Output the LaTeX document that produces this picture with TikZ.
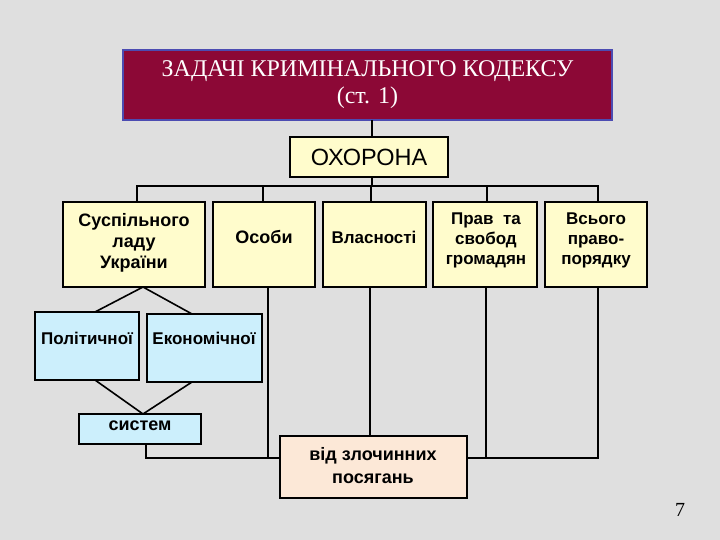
\documentclass[tikz,border=0pt]{standalone}
\usepackage{fontspec}
\setmainfont{Liberation Sans}
\newfontfamily\titlefont{Liberation Serif}
\begin{document}
\begin{tikzpicture}[x=1pt,y=-1pt,
  bx/.style={draw=black,line width=1.6pt,inner sep=0pt},
  tx/.style={align=center,inner sep=0pt,font=\bfseries\fontsize{18}{21}\selectfont},
  yel/.style={fill=yellow!20!white},
  cyn/.style={fill=cyan!20!white},
  ln/.style={line width=1.6pt}]
\fill[gray!25] (0,0) rectangle (720,540);
\useasboundingbox (0,0) rectangle (720,540);
\node[draw=blue!40!gray,line width=1.2pt,fill={rgb,255:red,140;green,8;blue,54},minimum width=489pt,minimum height=70pt,text=white,align=center,font=\titlefont\fontsize{24}{27}\selectfont] (t) at (367.5,85) {ЗАДАЧІ КРИМІНАЛЬНОГО КОДЕКСУ\\(ст. 1)};
\node[bx,yel,minimum width=158pt,minimum height=40pt,font=\fontsize{23.5}{26}\selectfont] (o) at (369,157) {ОХОРОНА};
\draw[bx,yel] (63,202) rectangle (205,287);
\draw[bx,yel] (213,202) rectangle (315,287);
\draw[bx,yel] (323,202) rectangle (426,287);
\draw[bx,yel] (433,202) rectangle (537,287);
\draw[bx,yel] (545,202) rectangle (647,287);
\draw[bx,cyn] (35,312) rectangle (139,380);
\draw[bx,cyn] (147,314) rectangle (262,382);
\draw[bx,cyn] (79,414) rectangle (201,444);
\draw[bx,fill={rgb,255:red,252;green,232;blue,215}] (280,436) rectangle (467,498);
\node[tx] (a) at (134,243) {Суспільного\\ладу\\України};
\node[tx] (b) at (264,237) {Особи};
\node[tx,font=\bfseries\fontsize{17}{21}\selectfont] (c) at (374,237) {Власності};
\node[tx,font=\bfseries\fontsize{17}{20}\selectfont] (d) at (486,240) {Прав \ та\\свобод\\громадян};
\node[tx,font=\bfseries\fontsize{17}{20}\selectfont] (e) at (596,240) {Всього\\право-\\порядку};
\node[tx,font=\bfseries\fontsize{17}{21}\selectfont] (p) at (87,338) {Політичної};
\node[tx,font=\bfseries\fontsize{17}{21}\selectfont] (k) at (204,338) {Економічної};
\node[tx] (s) at (140,426) {систем};
\node[tx,font=\bfseries\fontsize{18}{23}\selectfont] (v) at (373,466) {від злочинних\\посягань};
\coordinate (top) at (143,287);
\coordinate (bot) at (143,414);
\draw[ln] (372,120) -- (372,137);
\draw[ln] (372,177) -- (372,186);
\draw[ln] (137,202) -- (137,186) -| (263,202);
\draw[ln] (137,186) -| (371,202);
\draw[ln] (137,186) -| (487,202);
\draw[ln] (137,186) -| (598,202);
\draw[ln] (95,312) -- (top) -- (192,314);
\draw[ln] (95,380) -- (bot) -- (192,382);
\draw[ln] (146,444) |- (280,458);
\draw[ln] (268,287) -- (268,458);
\draw[ln] (370,287) -- (370,436);
\draw[ln] (467,458) -- (598,458) -- (598,287);
\draw[ln] (486,287) -- (486,458);
\node[font=\titlefont\fontsize{20}{22}\selectfont] (n) at (680,510) {7};
\end{tikzpicture}
\end{document}
